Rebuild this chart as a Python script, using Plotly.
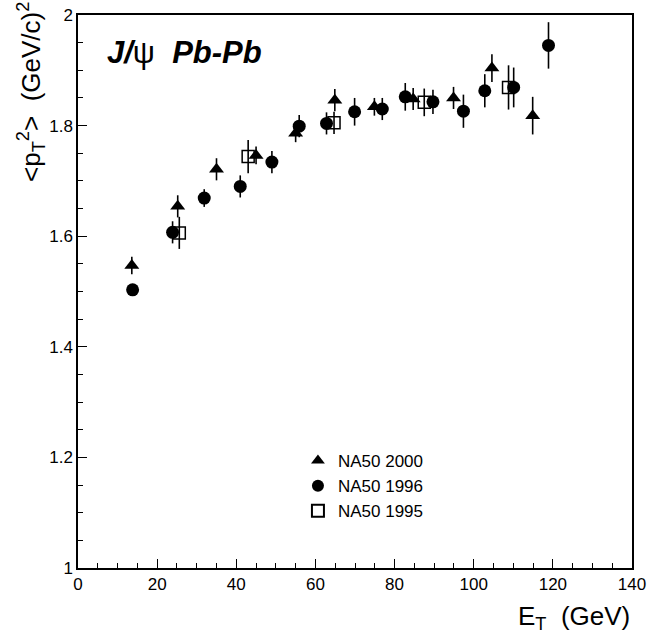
import plotly.graph_objects as go

# NA50 2000 (triangles)
et_2000 = [13.6, 25.2, 35.0, 45.0, 55.0, 64.9, 74.9, 84.7, 94.9, 104.6, 114.9]
pt2_2000 = [1.547, 1.654, 1.721, 1.746, 1.786, 1.846, 1.834, 1.848, 1.850, 1.904, 1.818]
err_2000 = [0.016, 0.020, 0.020, 0.016, 0.016, 0.020, 0.016, 0.020, 0.020, 0.025, 0.034]

# NA50 1996 (full circles)
et_1996 = [13.8, 23.9, 31.9, 41.0, 49.0, 55.9, 62.8, 69.9, 76.9, 82.7, 89.7, 97.4, 102.8, 110.1, 118.9]
pt2_1996 = [1.503, 1.607, 1.669, 1.690, 1.734, 1.799, 1.804, 1.825, 1.830, 1.852, 1.843, 1.826, 1.863, 1.869, 1.945]
err_1996 = [0.007, 0.020, 0.016, 0.020, 0.020, 0.020, 0.020, 0.025, 0.020, 0.025, 0.022, 0.030, 0.030, 0.036, 0.042]

# NA50 1995 (open squares)
et_1995 = [25.6, 43.0, 64.7, 87.5, 108.8]
pt2_1995 = [1.606, 1.744, 1.805, 1.842, 1.869]
err_1995 = [0.029, 0.030, 0.020, 0.025, 0.040]

fig = go.Figure()

def err(e):
    return dict(type="data", array=e, visible=True, color="black", thickness=1.6, width=0)

fig.add_trace(go.Scatter(x=et_2000, y=pt2_2000, mode="markers", name="NA50 2000",
                         error_y=err(err_2000),
                         marker=dict(symbol="triangle-up", size=13, color="black")))
fig.add_trace(go.Scatter(x=et_1996, y=pt2_1996, mode="markers", name="NA50 1996",
                         error_y=err(err_1996),
                         marker=dict(symbol="circle", size=13, color="black")))
fig.add_trace(go.Scatter(x=et_1995, y=pt2_1995, mode="markers", name="NA50 1995",
                         error_y=err(err_1995),
                         marker=dict(symbol="square-open", size=12, color="black",
                                     line=dict(width=1.5, color="black"))))

font = "Liberation Sans, Arial, sans-serif"

fig.update_layout(
    template="none",
    width=647, height=641,
    margin=dict(l=78, r=15, t=15, b=73, pad=0),
    paper_bgcolor="white", plot_bgcolor="white",
    font=dict(family=font, size=17, color="black"),
    showlegend=True,
    legend=dict(x=0.397, y=0.226, xanchor="left", yanchor="top",
                font=dict(size=17, family=font), bgcolor="rgba(0,0,0,0)",
                borderwidth=0, itemsizing="constant", tracegroupgap=0),
    xaxis=dict(range=[0, 140], dtick=20, tick0=0, showgrid=False, zeroline=False,
               automargin=False,
               showline=True, linecolor="black", linewidth=1.5, mirror=True,
               ticks="inside", ticklen=9, tickcolor="black", tickwidth=1,
               minor=dict(dtick=5, ticks="inside", ticklen=5, tickcolor="black", showgrid=False),
               tickfont=dict(size=17, family=font)),
    yaxis=dict(range=[1, 2], dtick=0.2, tick0=1, showgrid=False, zeroline=False,
               automargin=False,
               showline=True, linecolor="black", linewidth=1.5, mirror=True,
               ticks="inside", ticklen=9, tickcolor="black", tickwidth=1,
               minor=dict(dtick=0.05, ticks="inside", ticklen=5, tickcolor="black", showgrid=False),
               tickformat="~g",
               tickfont=dict(size=17, family=font)),
    annotations=[
        dict(text="<b><i>J/</i></b>ψ  <b><i>Pb-Pb</i></b>", xref="paper", yref="paper",
             x=0.049, y=0.968, xanchor="left", yanchor="top", showarrow=False,
             font=dict(size=31, family=font)),
        dict(text="&lt;p<sub>T</sub><sup>2</sup>&gt;  (GeV/c)<sup>2</sup>",
             xref="paper", yref="paper", x=-0.085, y=1.0, xanchor="center", yanchor="top",
             yshift=15, textangle=-90, showarrow=False, font=dict(size=26, family=font)),
        dict(text="E<sub>T</sub>  (GeV)", xref="paper", yref="paper",
             x=1.0, y=0.0, xanchor="right", yanchor="top", yshift=-31,
             showarrow=False, font=dict(size=26, family=font)),
    ],
)

fig.write_html("out.html")
